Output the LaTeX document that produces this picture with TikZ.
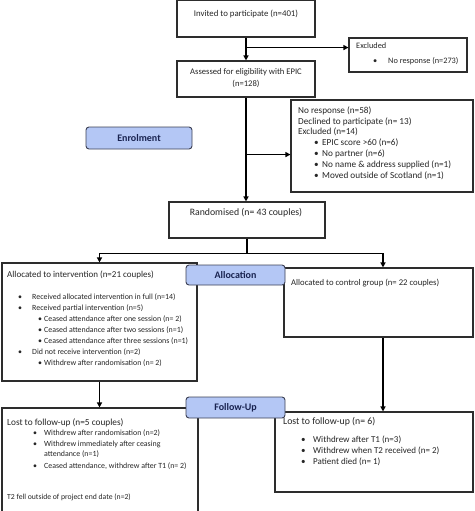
\documentclass[tikz,border=0pt]{standalone}
\usepackage{fontspec}
\setmainfont{Carlito}
\usetikzlibrary{arrows.meta,calc}
\definecolor{labfill}{RGB}{180,199,245}
\definecolor{labdraw}{RGB}{60,64,84}
\definecolor{labtext}{RGB}{25,35,80}
\definecolor{boxdraw}{RGB}{45,45,45}
\newcommand{\itm}[2]{\hspace*{#1}\makebox[#2][l]{\textbullet}}
\newcommand{\fs}[2]{\fontsize{#1}{#2}\selectfont}

\tikzset{
 box/.style={draw=boxdraw, line width=1.1pt, fill=white, inner sep=0},
 lab/.style={draw=labdraw, line width=0.9pt, fill=labfill, rounded corners=3pt,
   font=\fs{10}{12}\bfseries, text=labtext, inner sep=0},
 txt/.style={font=\fs{8}{11}, text=black!85, inner sep=0, align=left, anchor=north west},
 arr/.style={line width=1.3pt, -{Triangle[length=5pt,width=5pt]}},
 ln/.style={line width=1.3pt}
}

\begin{document}
\begin{tikzpicture}[x=1pt,y=-1pt]
\useasboundingbox (0,0) rectangle (474,511);
% boxes of the flow
\node[box, minimum width=138pt, minimum height=37pt] (inv) at (246,18.5) {};
\node[box, minimum width=118pt, minimum height=34pt] (exc1) at (408,55) {};
\node[box, minimum width=138pt, minimum height=36pt] (ass) at (246,79) {};
\node[box, minimum width=182pt, minimum height=92pt] (exc2) at (382,146) {};
\node[box, minimum width=156pt, minimum height=36pt] (rnd) at (247,220) {};
\node[box, minimum width=195pt, minimum height=118pt] (alI) at (99.5,322) {};
\node[box, minimum width=189pt, minimum height=69pt] (alC) at (378.5,302.5) {};
\node[box, minimum width=196pt, minimum height=112pt] (fuI) at (100,464) {};
\node[box, minimum width=198pt, minimum height=80pt] (fuC) at (374,452) {};

% stage labels
\node[lab, minimum width=106pt, minimum height=22pt] (enr) at (139,138) {Enrolment};
\node[lab, minimum width=99pt, minimum height=20pt] (alloc) at (235.5,275) {Allocation};
\node[lab, minimum width=99pt, minimum height=21pt] (follow) at (235.5,407.5) {Follow-Up};

% texts
\node[txt, font=\fs{8.8}{12}, anchor=north, align=center] (tinv) at (246,9.5) {Invited to participate (n=401)};
\node[txt, font=\fs{8.6}{12}, anchor=north, align=center] (tass) at (246,68.6) {Assessed for eligibility with EPIC\\ (n=128)};
\node[txt, font=\fs{8.3}{14.3}] (texc1) at (356,42.8) {Excluded\\ \itm{17pt}{15pt}No response (n=273)};
\node[txt, font=\fs{9.2}{10.8}] (texc2) at (298,106.3) {No response (n=58)\\ Declined to participate (n= 13)\\ Excluded (n=14)\\
  \itm{16pt}{8pt}EPIC score >60 (n=6)\\ \itm{16pt}{8pt}No partner (n=6)\\
  \itm{16pt}{8pt}No name \& address supplied (n=1)\\ \itm{16pt}{8pt}Moved outside of Scotland (n=1)};
\node[txt, font=\fs{9.8}{12}, anchor=north, align=center] (trnd) at (246,208) {Randomised (n= 43 couples)};
\node[txt, font=\fs{9}{11}] (talIa) at (7,270.4) {Allocated to intervention (n=21 couples)};
\node[txt, font=\fs{7.9}{11}] (talIb) at (7,294) {\itm{11pt}{14pt}Received allocated intervention in full (n=14)\\
  \itm{11pt}{14pt}Received partial intervention (n=5)\\
  \itm{31pt}{6pt}Ceased attendance after one session (n= 2)\\
  \itm{31pt}{6pt}Ceased attendance after two sessions (n=1)\\
  \itm{31pt}{6pt}Ceased attendance after three sessions (n=1)\\
  \itm{11pt}{14pt}Did not receive intervention (n=2)\\
  \itm{31pt}{6pt}Withdrew after randomisation (n= 2)};
\node[txt, font=\fs{8.7}{11}] (talC) at (291,278.6) {Allocated to control group (n= 22 couples)};
\node[txt, font=\fs{9.3}{11}] (tfuIa) at (7,418.3) {Lost to follow-up (n=5 couples)};
\node[txt, font=\fs{7.9}{10.5}] (tfuIb) at (7,430) {\itm{26pt}{11pt}Withdrew after randomisation (n=2)\\
  \itm{26pt}{11pt}Withdrew immediately after ceasing\\
  \hspace*{37pt}attendance (n=1)\\[1.5pt]
  \itm{26pt}{11pt}Ceased attendance, withdrew after T1 (n= 2)};
\node[txt, font=\fs{7.7}{11}] (tfuIc) at (7,494) {T2 fell outside of project end date (n=2)};
\node[txt, font=\fs{9.8}{11}] (tfuCa) at (283,417) {Lost to follow-up (n= 6)};
\node[txt, font=\fs{9}{11}] (tfuCb) at (283,435.4) {\itm{18pt}{12pt}Withdrew after T1 (n=3)\\
  \itm{18pt}{12pt}Withdrew when T2 received (n= 2)\\
  \itm{18pt}{12pt}Patient died (n= 1)};

% connectors
\coordinate (j1) at ($(inv.south)+(0,10)$);
\coordinate (j2) at ($(ass.south)+(0,57)$);
\coordinate (j3) at ($(rnd.south)+(0,15)$);
\draw[arr] (inv.south) -- (ass.north);
\draw[arr] (j1) -- (j1 -| exc1.west);
\draw[arr] (ass.south) -- (ass.south |- rnd.north);
\draw[arr] (j2) -- (j2 -| exc2.west);
\draw[ln] (rnd.south) -- (j3);
\draw[arr] (j3) -| (alI.north);
\draw[arr] (j3) -| ([xshift=4.5pt]alC.north);
\draw[arr] (alI.south) -- (alI.south |- fuI.north);
\draw[arr] ([xshift=4.5pt]alC.south) -- ([xshift=4.5pt]alC.south |- fuC.north);
\end{tikzpicture}
\end{document}
